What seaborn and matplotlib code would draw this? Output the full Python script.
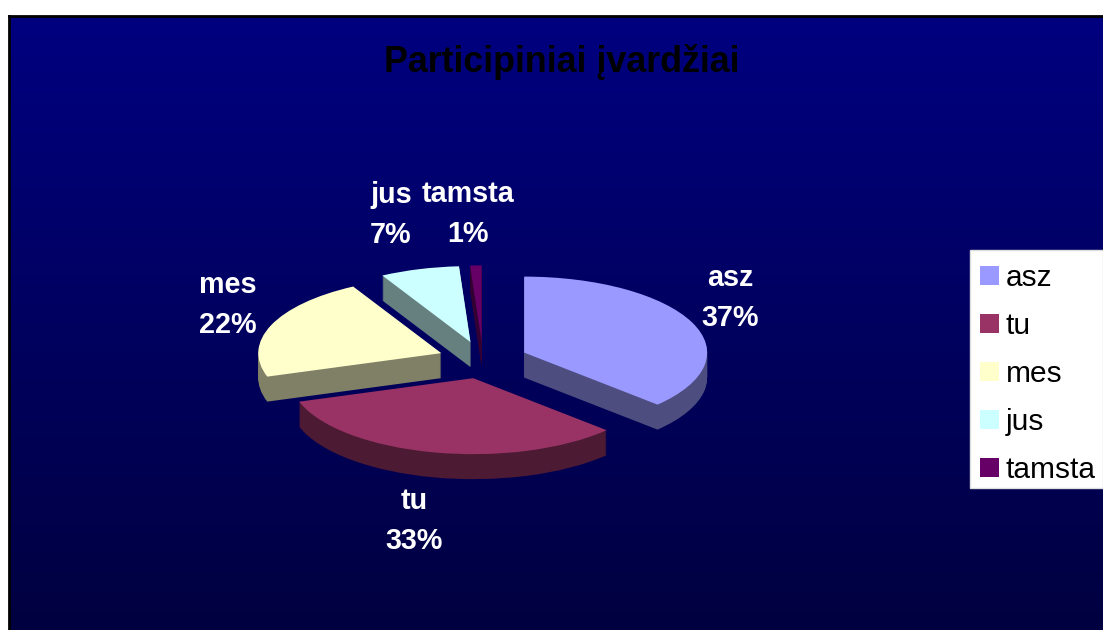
import numpy as np
import seaborn as sns
import matplotlib
matplotlib.use('Agg')
import matplotlib.pyplot as plt
from matplotlib.patches import Rectangle

# data
names = ['asz', 'tu', 'mes', 'jus', 'tamsta']
shares = [37, 33, 22, 7, 1]
colors = ['#9999FF', '#993366', '#FFFFCC', '#CCFFFF', '#660066']
title = 'Participiniai įvardžiai'

W, H = 1103, 630
PIE_X, PIE_Y = 483, 360   # pie centre, pixels
RX, RY = 183, 76          # ellipse radii, pixels
DEPTH = 25                # thickness of the slices, pixels

# label centres, pixels
label_pos = [(730, 298), (414, 521), (228, 305), (391, 215), (468, 214)]

sns.set_theme(style='white')
plt.rcParams['font.family'] = ['Liberation Sans', 'DejaVu Sans']


def fx(px):
    return px / W


def fy(py):
    return 1 - py / H


fig = plt.figure(figsize=(W / 100, H / 100), dpi=100, facecolor='white')

# background gradient, navy down to dark navy
bg = fig.add_axes([fx(9), 0, 1 - fx(9), fy(16)])
blue = np.linspace(128, 64, 256).reshape(-1, 1)
grad = np.dstack([np.zeros_like(blue), np.zeros_like(blue), blue]) / 255
bg.imshow(grad, aspect='auto', extent=(0, 1, 0, 1))
bg.set_xticks([])
bg.set_yticks([])
for side in ['bottom', 'right']:
    bg.spines[side].set_visible(False)
for side in ['top', 'left']:
    bg.spines[side].set_color('black')
    bg.spines[side].set_linewidth(2)

ax = fig.add_axes([0, 0, 1, 1])
ax.patch.set_alpha(0)

palette = sns.color_palette(colors)
dark = [tuple(c * 0.5 for c in col) for col in palette]
explode = [0.245] * len(shares)
props = dict(linewidth=0, edgecolor='none')

# stack of darker pies gives the side walls
for d in range(DEPTH, 0, -1):
    ax.pie(shares, colors=dark, explode=explode, startangle=90, counterclock=False,
           center=(0, -d / RY), wedgeprops=props)
wedges, _ = ax.pie(shares, colors=palette, explode=explode, startangle=90,
                   counterclock=False, wedgeprops=props)

ax.set_aspect('auto')
ax.set_xlim(-PIE_X / RX, (W - PIE_X) / RX)
ax.set_ylim(-(H - PIE_Y) / RY, PIE_Y / RY)

fig.text(fx(562), fy(72), title, color='black', fontsize=25.8, fontweight='bold',
         ha='center', va='baseline')

for name, share, (x, y) in zip(names, shares, label_pos):
    fig.text(fx(x), fy(y), f'{name}\n{share}%', color='white', fontsize=20.7,
             fontweight='bold', ha='center', va='center', linespacing=1.55)

# legend box runs off the right edge of the picture
ax.add_patch(Rectangle((fx(970), fy(488)), 1 - fx(970), fy(250) - fy(488),
                       transform=fig.transFigure, facecolor='white', edgecolor='#DDDDDD',
                       linewidth=1, zorder=4))
leg = ax.legend(wedges, names, loc='upper left', bbox_to_anchor=(fx(980), fy(264)),
                bbox_transform=fig.transFigure, fontsize=21.5, frameon=False, borderaxespad=0,
                borderpad=0, handlelength=0.64, handleheight=0.64, handletextpad=0.23,
                labelspacing=0.67)
for t in leg.get_texts():
    t.set_color('black')

fig.savefig('out.png', dpi=100)
